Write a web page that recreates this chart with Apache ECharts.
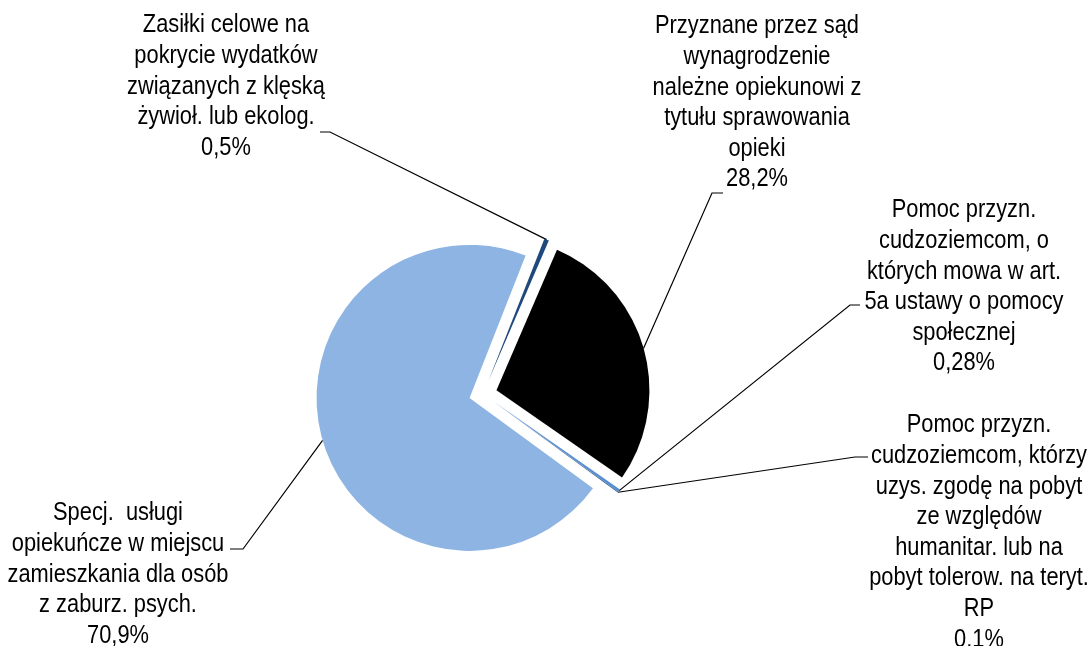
<!DOCTYPE html>
<html>
<head>
<meta charset="utf-8">
<script src="https://cdn.jsdelivr.net/npm/echarts@6/dist/echarts.min.js"></script>
<style>
  html, body { margin: 0; padding: 0; background: #ffffff; }
  #chart { width: 1091px; height: 646px; }
</style>
</head>
<body>
<div id="chart"></div>
<script>
// Slice names (line breaks as printed), shares in percent and fill colours
const categories = [
  'Zasiłki celowe na\npokrycie wydatków\nzwiązanych z klęską\nżywioł. lub ekolog.',
  'Przyznane przez sąd\nwynagrodzenie\nnależne opiekunowi z\ntytułu sprawowania\nopieki',
  'Pomoc przyzn.\ncudzoziemcom, o\nktórych mowa w art.\n5a ustawy o pomocy\nspołecznej',
  'Pomoc przyzn.\ncudzoziemcom, którzy\nuzys. zgodę na pobyt\nze względów\nhumanitar. lub na\npobyt tolerow. na teryt.\nRP',
  'Specj.  usługi\nopiekuńcze w miejscu\nzamieszkania dla osób\nz zaburz. psych.'
];
const shares = [0.5, 28.2, 0.28, 0.1, 70.9];
const sliceColors = ['#1F497D', '#000000', '#558ED5', '#376092', '#8EB4E3'];

// Pie geometry
const PIE_CENTER = [483, 394];
const PIE_RADIUS = 153;
const EXPLODE = 14;

// Where each label block sits (centre x, top y) and the bend of its leader line
const labelAnchors = [
  { cx: 226, top: 10,  bend: [330, 132], end: [320, 132] },
  { cx: 757, top: 11,  bend: [712, 193], end: [723, 193] },
  { cx: 964, top: 195, bend: [850, 305], end: [860, 305] },
  { cx: 979, top: 410, bend: [855, 457], end: [868, 457] },
  { cx: 118, top: 498, bend: [243, 549], end: [230, 549] }
];

const fmtPct = v => String(v).replace('.', ',') + '%';

const chart = echarts.init(document.getElementById('chart'), null, { renderer: 'canvas' });

chart.setOption({
  backgroundColor: '#ffffff',
  animation: false,
  // Label blocks, set in a narrow face (regular sans squeezed horizontally)
  graphic: labelAnchors.map((a, i) => ({
    type: 'text',
    x: a.cx,
    y: a.top,
    scaleX: 0.84,
    silent: true,
    style: {
      text: categories[i] + '\n' + fmtPct(shares[i]),
      font: '26px "Liberation Sans", Arial, sans-serif',
      lineHeight: 30.6,
      align: 'center',
      verticalAlign: 'top',
      fill: '#000000'
    }
  })),
  series: [{
    type: 'pie',
    center: PIE_CENTER,
    radius: PIE_RADIUS,
    startAngle: 68.5,
    clockwise: true,
    selectedMode: 'multiple',
    selectedOffset: EXPLODE,
    avoidLabelOverlap: false,
    minShowLabelAngle: 0,
    emphasis: { disabled: true },
    data: categories.map((name, i) => ({
      name: name,
      value: shares[i],
      selected: true,
      itemStyle: { color: sliceColors[i], borderWidth: 0 },
      select: { itemStyle: { color: sliceColors[i], borderWidth: 0 } }
    })),
    // Series labels only carry the leader lines; the text itself is in the graphic blocks
    label: {
      show: true,
      formatter: ' ',
      fontSize: 1,
      color: 'rgba(0,0,0,0)'
    },
    labelLine: {
      show: true,
      length: 10,
      length2: 10,
      lineStyle: { color: '#000000', width: 1.2 }
    },
    labelLayout: function (p) {
      const a = labelAnchors[p.dataIndex];
      const s = p.labelLinePoints && p.labelLinePoints[0];
      if (!s) return {};
      // the leader is moved along with its exploded slice, so pull the
      // label-side points back by the same offset
      const vx = s[0] - PIE_CENTER[0];
      const vy = s[1] - PIE_CENTER[1];
      const len = Math.hypot(vx, vy) || 1;
      const dx = EXPLODE * vx / len;
      const dy = EXPLODE * vy / len;
      return {
        labelLinePoints: [
          s,
          [a.bend[0] - dx, a.bend[1] - dy],
          [a.end[0] - dx, a.end[1] - dy]
        ]
      };
    }
  }]
});
</script>
</body>
</html>
